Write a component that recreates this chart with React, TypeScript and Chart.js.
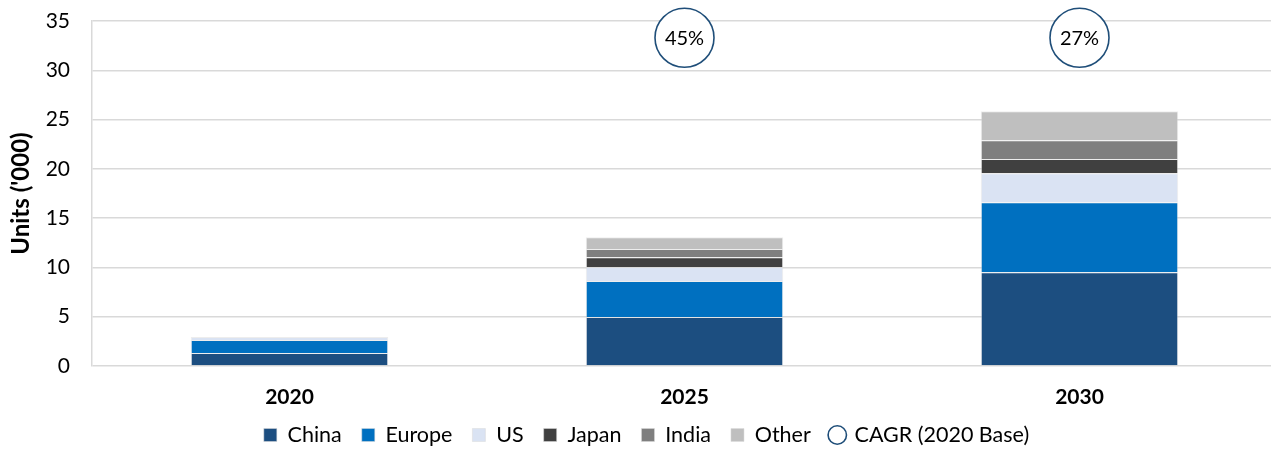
import React, { useEffect, useRef } from "react";
import { Chart, registerables } from "chart.js";
Chart.register(...registerables);

const categories = ["2020", "2025", "2030"];
const china = [1.32, 4.97, 9.5];
const europe = [1.33, 3.65, 7.1];
const us = [0.3, 1.42, 2.95];
const japan = [0, 1.0, 1.45];
const india = [0, 0.82, 1.9];
const other = [0, 1.2, 2.95];
const cagrLevel = [null, 33.3, 33.3];
const cagrLabels = ["", "45%", "27%"];
const yTicks = [0, 5, 10, 15, 20, 25, 30, 35];

const FONT = "Lato, 'Open Sans', sans-serif";

const cagrText = {
  id: "cagrText",
  afterLayout(chart: any) {
    const x = chart.scales.x;
    if (x) x.bottom = x.top + 70;
    const lg = chart.legend;
    if (lg) {
      lg.left += 8;
      lg.right += 8;
    }
  },
  afterDatasetsDraw(chart: any) {
    const meta = chart.getDatasetMeta(6);
    const ctx = chart.ctx;
    ctx.save();
    ctx.fillStyle = "#000";
    ctx.font = `20px ${FONT}`;
    ctx.textAlign = "center";
    ctx.textBaseline = "middle";
    meta.data.forEach((pt: any, i: number) => {
      if (cagrLevel[i] == null) return;
      ctx.fillText(cagrLabels[i], pt.x, pt.y + 1);
    });
    ctx.restore();
  },
};

export default function App() {
  const ref = useRef<HTMLCanvasElement>(null);
  useEffect(() => {
    const border = "rgba(220,220,220,0.5)";
    const bar = (label: string, data: number[], color: string) => ({
      type: "bar" as const,
      label,
      data,
      backgroundColor: color,
      borderColor: border,
      borderWidth: 1,
      pointStyle: "rect",
      stack: "s",
      barPercentage: 0.5,
      categoryPercentage: 1,
    });
    const chart = new Chart(ref.current!, {
      type: "bar",
      data: {
        labels: categories,
        datasets: [
          bar("China", china, "#1C4E80"),
          bar("Europe", europe, "#0070C0"),
          bar("US", us, "#DAE3F3"),
          bar("Japan", japan, "#404040"),
          bar("India", india, "#7F7F7F"),
          bar("Other", other, "#BFBFBF"),
          {
            type: "line" as const,
            label: "CAGR (2020 Base)",
            data: cagrLevel as any,
            showLine: false,
            pointRadius: 29.5,
            pointHoverRadius: 29.5,
            pointBorderWidth: 1.6,
            borderWidth: 1.6,
            borderColor: "#1F4E79",
            backgroundColor: "#FFFFFF",
            pointBackgroundColor: "#FFFFFF",
            pointBorderColor: "#1F4E79",
            pointStyle: "circle",
            clip: false,
          } as any,
        ],
      },
      options: {
        animation: false,
        responsive: false,
        maintainAspectRatio: false,
        layout: {
          autoPadding: false,
          padding: { top: 21, right: 3, bottom: -6.75, left: 0 },
        },
        scales: {
          x: {
            stacked: true,
            grid: { display: false, drawTicks: false },
            border: { display: false },
            afterFit: (s: any) => {
              s.height = 38.25;
              s.paddingLeft = 0;
              s.paddingRight = 0;
            },
            ticks: {
              color: "#000",
              padding: 18.5,
              font: { family: FONT, size: 21, weight: "bold" },
            },
          } as any,
          y: {
            stacked: true,
            min: 0,
            max: 35,
            afterBuildTicks: (s: any) => {
              s.ticks = yTicks.map((v) => ({ value: v }));
            },
            afterFit: (s: any) => {
              s.width = 92;
              s.paddingTop = 0;
            },
            grid: { color: "#D9D9D9", lineWidth: 1.5, drawTicks: false },
            border: { display: true, color: "#D9D9D9", width: 1.5 },
            ticks: {
              color: "#000",
              padding: 22,
              font: { family: FONT, size: 21 },
            },
            title: {
              display: true,
              text: "Units ('000)",
              color: "#000",
              padding: { top: 7, bottom: 0 },
              font: { family: FONT, size: 24, weight: "bold" },
            },
          } as any,
        },
        plugins: {
          legend: {
            position: "bottom",
            labels: {
              usePointStyle: true,
              boxWidth: 13,
              boxHeight: 13,
              padding: 20,
              color: "#000",
              font: { family: FONT, size: 21.5 },
            },
          },
          tooltip: { enabled: false },
        },
      } as any,
      plugins: [cagrText],
    });
    return () => chart.destroy();
  }, []);
  return (
    <div
      style={{
        position: "absolute",
        left: 0,
        top: 0,
        width: 1271,
        height: 449,
        overflow: "hidden",
        background: "#fff",
      }}
    >
      <canvas ref={ref} width={1280} height={449} style={{ display: "block" }} />
    </div>
  );
}
